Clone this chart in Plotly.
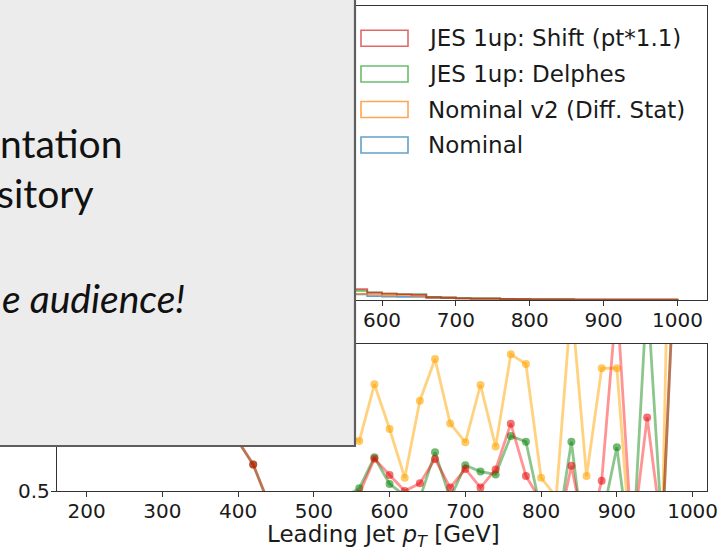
import plotly.graph_objects as go

W, H = 718, 552

# ---------------- data ----------------
bin_edges = [200, 220, 240, 260, 280, 300, 320, 340, 360, 380, 400, 420, 440, 460, 480,
             500, 520, 540, 560, 580, 600, 620, 640, 660, 680, 700, 720, 740, 760, 780,
             800, 820, 840, 860, 880, 900, 920, 940, 960, 980, 1000]
bin_lefts = bin_edges[:-1]

series_names = ["JES 1up: Shift (pt*1.1)", "JES 1up: Delphes", "Nominal v2 (Diff. Stat)", "Nominal"]

# histogram counts per bin (arbitrary units)
h_nominal = [1000, 850, 700, 560, 450, 360, 290, 230, 185, 150, 120, 96, 78, 62, 50, 40, 32, 25,
             20, 14, 12, 11, 11, 9, 7, 6, 5, 5, 3, 3, 2, 2, 2, 1, 1, 1, 1, 1, 1, 1]
h_nominal_v2 = [990, 860, 690, 565, 445, 365, 285, 232, 180, 152, 118, 98, 76, 63, 49, 41, 31, 26,
                22, 20, 16, 18, 14, 9, 8, 6, 5, 5, 3, 3, 2, 2, 2, 1, 1, 1, 1, 1, 1, 1]
h_delphes = [960, 900, 760, 610, 500, 400, 320, 255, 205, 165, 132, 108, 88, 70, 56, 46, 38, 30,
             33, 27, 23, 21, 21, 11, 9, 7, 6, 6, 3, 3, 2, 2, 2, 1, 1, 1, 1, 1, 1, 1]
h_shift = [950, 905, 770, 620, 505, 405, 325, 258, 208, 168, 135, 110, 90, 72, 58, 47, 39, 32,
           39, 26, 23, 20, 18, 9, 8, 6, 5, 5, 4, 3, 2, 2, 2, 1, 1, 1, 1, 1, 1, 1]

# ratio panel values (one per bin left edge)
r_nominal_v2 = [1.00, 0.99, 1.01, 1.00, 0.98, 1.02, 1.01, 0.97, 1.03, 0.99, 1.04, 0.96, 1.05, 0.95,
                1.08, 0.93, 1.10, 0.90, 0.84, 1.226, 0.922, 0.59, 1.114, 1.398, 0.96, 0.831, 1.221,
                0.802, 1.43, 1.364, 0.59, 0.46, 1.79, 0.602, 1.335, 1.335, 0.0, 0.0, 0.25, 5.25]
r_delphes = [1.02, 1.04, 1.01, 1.05, 1.03, 1.00, 1.06, 1.02, 0.98, 1.00, 0.84, 0.68, 0.42, 0.34,
             0.31, 0.33, 0.40, 0.46, 0.518, 0.73, 0.548, 0.47, 0.45, 0.763, 0.45, 0.675, 0.632,
             0.613, 0.874, 0.835, 0.36, 0.17, 0.835, 0.0, 0.30, 0.797, 0.0, 1.86, 0.2, 2.5]
r_shift = [1.02, 1.04, 1.01, 1.05, 1.03, 1.00, 1.06, 1.02, 0.98, 1.00, 0.84, 0.68, 0.42, 0.35,
           0.30, 0.32, 0.38, 0.44, 0.48, 0.72, 0.609, 0.50, 0.552, 0.718, 0.523, 0.650, 0.523,
           0.647, 0.958, 0.602, 0.43, 0.18, 0.672, 0.15, 0.57, 1.81, 0.15, 1.0, 0.2, 2.5]

top_x_ticks = [600, 700, 800, 900, 1000]          # 200-500 are hidden behind the slide box
bottom_x_ticks = [200, 300, 400, 500, 600, 700, 800, 900, 1000]
bottom_y_ticks = [0.5]                            # 1.0 / 1.5 hidden behind the slide box

# ---------------- styles ----------------
hist_colors = {
    "JES 1up: Shift (pt*1.1)": "rgba(214,39,40,0.7)",
    "JES 1up: Delphes": "rgba(44,160,44,0.7)",
    "Nominal v2 (Diff. Stat)": "rgba(255,127,14,0.7)",
    "Nominal": "rgba(31,119,180,0.7)",
}
hist_data = {
    "JES 1up: Shift (pt*1.1)": h_shift,
    "JES 1up: Delphes": h_delphes,
    "Nominal v2 (Diff. Stat)": h_nominal_v2,
    "Nominal": h_nominal,
}

FONT = "DejaVu Sans"
AX = "#333333"


def px_x(p):
    return p / W


def px_y(p):
    return 1 - p / H


fig = go.Figure()

# top panel: step histograms
for name in ["Nominal", "Nominal v2 (Diff. Stat)", "JES 1up: Delphes", "JES 1up: Shift (pt*1.1)"]:
    counts = hist_data[name]
    xs = [bin_edges[0]] + bin_edges + [bin_edges[-1]]
    ys = [0] + counts + [counts[-1]] + [0]
    fig.add_trace(go.Scatter(x=xs, y=ys, mode="lines", line=dict(shape="hv", color=hist_colors[name], width=1.8),
                             name=name, showlegend=False, xaxis="x", yaxis="y", hoverinfo="skip"))

# bottom panel: ratios
ratio_specs = [
    (r_nominal_v2, "rgba(255,165,0,0.5)", "rgba(255,165,0,0.6)"),
    (r_delphes, "rgba(0,128,0,0.45)", "rgba(0,128,0,0.55)"),
    (r_shift, "rgba(255,0,0,0.42)", "rgba(230,0,0,0.55)"),
]
for vals, lc, mc in ratio_specs:
    fig.add_trace(go.Scatter(x=bin_lefts, y=vals, mode="lines+markers",
                             line=dict(color=lc, width=2.8),
                             marker=dict(color=mc, size=8, line=dict(width=0)),
                             showlegend=False, xaxis="x2", yaxis="y2", hoverinfo="skip"))

axis_common = dict(showline=True, linecolor=AX, linewidth=1.3, mirror=True, ticks="outside",
                   ticklen=5, tickwidth=1.2, tickcolor=AX, showgrid=False, zeroline=False,
                   automargin=False, ticklabeloverflow="allow", ticklabelstandoff=-3,
                   tickfont=dict(family=FONT, size=20, color="#1a1a1a"))

xdom = [px_x(57), px_x(707)]
fig.update_layout(
    width=W, height=H, margin=dict(l=0, r=0, t=0, b=0, autoexpand=False),
    paper_bgcolor="white", plot_bgcolor="white", showlegend=False,
    xaxis=dict(domain=xdom, range=[160, 1040], tickvals=top_x_ticks, anchor="y", **axis_common),
    yaxis=dict(domain=[px_y(300), px_y(6)], range=[0, 1050], anchor="x", showticklabels=False,
               **axis_common),
    xaxis2=dict(domain=xdom, range=[161, 1019], tickvals=bottom_x_ticks, anchor="y2", **axis_common),
    yaxis2=dict(domain=[px_y(491), px_y(344)], range=[0.5, 1.5], tickvals=bottom_y_ticks,
                tickformat=".1f", anchor="x2", **axis_common),
)

shapes = []
annotations = []

# x-axis title of the ratio panel
annotations.append(dict(xref="paper", yref="paper", x=px_x(383), y=px_y(536),
                        xanchor="center", yanchor="middle", showarrow=False,
                        text="Leading Jet <i>p</i><sub><i>T</i></sub> [GeV]",
                        font=dict(family=FONT, size=23, color="#1a1a1a")))

# manual legend (outlined patches + labels)
row_centers = [38.3, 74.0, 109.5, 145.0]
for name, c in zip(series_names, row_centers):
    shapes.append(dict(type="rect", xref="paper", yref="paper",
                       x0=px_x(361), x1=px_x(408), y0=px_y(c + 8), y1=px_y(c - 8),
                       line=dict(color=hist_colors[name], width=1.6), fillcolor="rgba(0,0,0,0)",
                       layer="above"))
    annotations.append(dict(xref="paper", yref="paper", x=px_x(426), y=px_y(c),
                            xanchor="left", yanchor="middle", showarrow=False, text=name,
                            font=dict(family=FONT, size=23, color="#1a1a1a")))

# overlaid slide box
shapes.append(dict(type="rect", xref="paper", yref="paper",
                   x0=-0.02, x1=px_x(355), y0=px_y(446), y1=1.02,
                   fillcolor="#ececec", line=dict(color="#5e5e5e", width=2.2), layer="above"))

box_text = [("ntation", 125, 143, False), ("sitory", 96, 193, False), ("e audience!", 187, 298, True)]
for txt, xr, yc, ital in box_text:
    annotations.append(dict(xref="paper", yref="paper", x=px_x(xr), y=px_y(yc),
                            xanchor="right", yanchor="middle", showarrow=False,
                            text=f"<i>{txt}</i>" if ital else txt,
                            font=dict(family="Lato", size=39, color="#111111")))

fig.update_layout(shapes=shapes, annotations=annotations)

fig.write_html("out.html")
